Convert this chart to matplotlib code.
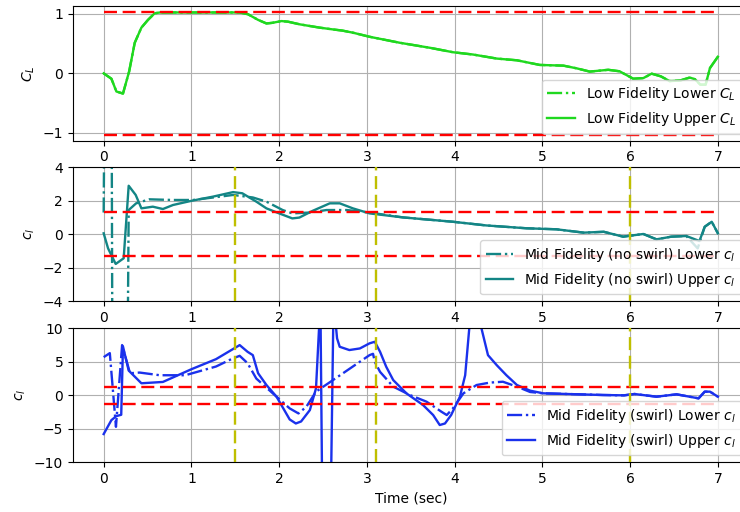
import numpy as np
import matplotlib
matplotlib.use("Agg")
import matplotlib.pyplot as plt

# Low fidelity lift coefficient
t_low = [0, 0.088, 0.145, 0.22, 0.29, 0.354, 0.43, 0.505, 0.58, 0.64,
         1.0, 1.3, 1.55, 1.645, 1.76, 1.855, 1.92, 2.026, 2.10, 2.235,
         2.46, 2.61, 2.72, 2.84, 3.03, 3.375, 3.72, 3.98, 4.21, 4.48,
         4.71, 4.97, 5.24, 5.39, 5.54, 5.75, 5.88, 6.035, 6.15, 6.245,
         6.35, 6.45, 6.57, 6.68, 6.74, 6.80, 6.86, 6.91, 7.0]
cl_low_upper = [0.0, -0.09, -0.305, -0.34, 0.03, 0.515, 0.77, 0.9, 1.01, 1.025,
                1.025, 1.025, 1.025, 0.995, 0.9, 0.84, 0.85, 0.88, 0.87, 0.825,
                0.77, 0.74, 0.72, 0.685, 0.616, 0.515, 0.43, 0.356, 0.317, 0.249,
                0.22, 0.142, 0.13, 0.085, 0.03, 0.06, 0.035, -0.09, -0.08, -0.005,
                -0.05, -0.13, -0.12, -0.07, -0.1, -0.19, -0.19, 0.09, 0.28]
cl_low_lower = list(cl_low_upper)
cl_low_bound = 1.03

# Mid fidelity, no swirl
t_mid = [0, 0.05, 0.137, 0.228, 0.285, 0.365, 0.43, 0.56, 0.675, 0.79,
         1.0, 1.246, 1.475, 1.58, 1.74, 1.855, 2.0, 2.15, 2.23, 2.385,
         2.577, 2.69, 2.84, 3.03, 3.41, 3.98, 4.36, 4.82, 5.16, 5.47,
         5.7, 5.92, 6.15, 6.30, 6.47, 6.64, 6.79, 6.85, 6.93, 7.0]
cl_mid_upper = [0.06, -0.84, -1.77, -1.43, 2.9, 2.35, 1.55, 1.65, 1.51, 1.75,
                2.0, 2.25, 2.52, 2.45, 1.95, 1.55, 1.25, 0.95, 1.0, 1.41,
                1.85, 1.85, 1.55, 1.25, 1.01, 0.75, 0.53, 0.36, 0.3, 0.1,
                0.15, -0.14, 0.02, -0.3, -0.14, -0.1, -0.4, 0.45, 0.75, 0.06]
t_mid_lower = [0, 0.01, 0.09, 0.1, 0.27, 0.285, 0.37, 0.52, 0.79, 1.02,
               1.25, 1.475, 1.55, 1.70, 1.855, 2.04, 2.15, 2.35, 2.54, 2.77,
               3.03, 3.41, 3.98, 4.36, 4.82, 5.16, 5.47, 5.7, 5.92, 6.15,
               6.30, 6.47, 6.64, 6.77, 6.85, 6.93, 7.0]
cl_mid_lower = [1.3, 9, 9, -9, -9, 1.45, 1.85, 2.09, 2.05, 2.05,
                2.2, 2.35, 2.3, 2.2, 1.95, 1.45, 1.25, 1.3, 1.45, 1.45,
                1.3, 1.01, 0.75, 0.53, 0.36, 0.3, 0.1, 0.15, -0.14, 0.02,
                -0.3, -0.14, -0.1, -0.84, 0.45, 0.75, 0.06]

# Mid fidelity, swirl
t_swirl = [0, 0.088, 0.145, 0.2, 0.22, 0.285, 0.43, 0.675, 1.0, 1.28,
           1.55, 1.64, 1.70, 1.76, 1.855, 1.97, 2.12, 2.19, 2.25, 2.35,
           2.42, 2.47, 2.49, 2.59, 2.62, 2.66, 2.69, 2.80, 2.92, 3.03,
           3.09, 3.15, 3.22, 3.30, 3.45, 3.64, 3.755, 3.83, 3.89, 3.96,
           4.06, 4.12, 4.17, 4.24, 4.30, 4.38, 4.48, 4.59, 4.71, 4.86,
           5.01, 5.69, 5.93, 6.05, 6.30, 6.53, 6.78, 6.85, 6.91, 7.0]
cl_swirl_upper = [-5.78, -3.7, -3.1, -2.9, 7.3, 3.7, 1.8, 2.0, 3.9, 5.4,
                  7.5, 6.5, 6.0, 3.3, 1.54, -0.2, -3.6, -4.2, -3.9, -2.2,
                  1.05, 14, -14, -14, 14, 8.5, 7.25, 6.76, 7.0, 7.76,
                  8.0, 6.5, 4.27, 2.28, 0.3, -1.45, -2.94, -4.43, -4.2, -2.94,
                  -0.2, 3.0, 10.5, 14, 10.3, 6.0, 4.5, 3.0, 1.54, 0.7,
                  0.3, 0.05, 0.0, 0.2, -0.2, 0.15, -0.45, 0.55, 0.55, -0.2]
t_swirl_lower = [0, 0.07, 0.14, 0.21, 0.3, 0.41, 0.64, 0.93, 1.28, 1.47,
                 1.55, 1.64, 1.74, 1.97, 2.12, 2.22, 2.31, 2.42, 3.03, 3.07,
                 3.09, 3.15, 3.30, 3.49, 3.68, 3.85, 3.91, 3.98, 4.10, 4.25,
                 4.40, 4.55, 4.71, 4.86, 5.01, 5.69, 5.93, 6.05, 6.30, 6.53,
                 6.78, 6.85, 6.91, 7.0]
cl_swirl_lower = [5.7, 6.3, -4.7, 7.5, 3.3, 3.4, 3.0, 3.0, 4.3, 5.5,
                  5.9, 4.8, 2.5, -0.2, -1.95, -2.7, -1.7, 0.55, 6.0, 6.2,
                  5.0, 3.5, 1.3, 0.05, -0.95, -2.45, -2.94, -1.95, 0.3, 1.54,
                  1.9, 2.03, 1.3, 0.5, 0.3, 0.05, 0.0, 0.2, -0.2, 0.15,
                  -0.45, 0.55, 0.55, -0.2]
cl_mid_bound = 1.31
event_times = [1.5, 3.1, 6.0]

green = "#1fd81f"
teal = "#138585"
blue = "#1a31ec"
lw = 1.7
long_dash = (0, (5.5, 2.4))

fig = plt.figure(figsize=(7.4, 5.12), dpi=100)
left, width = 0.0986, 0.913
ax1 = fig.add_axes([left, 0.7252, width, 0.263])
ax2 = fig.add_axes([left, 0.4115, width, 0.2617])
ax3 = fig.add_axes([left, 0.097, width, 0.2617])

# top: low fidelity
ax1.plot(t_low, cl_low_lower, "-.", color=green, lw=lw, label="Low Fidelity Lower $C_L$")
ax1.plot(t_low, cl_low_upper, "-", color=green, lw=lw, label="Low Fidelity Upper $C_L$")
ax1.hlines([cl_low_bound, -cl_low_bound], t_low[0], t_low[-1], colors="r",
           linestyles=long_dash, lw=lw, zorder=3)
ax1.set_ylabel("$C_L$")

# middle: no swirl
ax2.plot(t_mid_lower, cl_mid_lower, "-.", color=teal, lw=lw,
         label="Mid Fidelity (no swirl) Lower $c_l$")
ax2.plot(t_mid, cl_mid_upper, "-", color=teal, lw=lw,
         label="Mid Fidelity (no swirl) Upper $c_l$")
ax2.hlines([cl_mid_bound, -cl_mid_bound], t_mid[0], t_mid[-1], colors="r",
           linestyles=long_dash, lw=lw, zorder=3)
ax2.set_ylim(-4, 4)
ax2.set_ylabel("$c_l$")

# bottom: swirl
ax3.plot(t_swirl_lower, cl_swirl_lower, "-.", color=blue, lw=lw,
         label="Mid Fidelity (swirl) Lower $c_l$")
ax3.plot(t_swirl, cl_swirl_upper, "-", color=blue, lw=lw,
         label="Mid Fidelity (swirl) Upper $c_l$")
ax3.hlines([cl_mid_bound, -cl_mid_bound], t_swirl[0], t_swirl[-1], colors="r",
           linestyles=long_dash, lw=lw, zorder=3)
ax3.set_ylim(-10, 10)
ax3.set_ylabel("$c_l$")
ax3.set_xlabel("Time (sec)")

for ax in (ax2, ax3):
    for te in event_times:
        ax.axvline(te, color="y", ls=long_dash, lw=lw, zorder=3)

for ax in (ax1, ax2, ax3):
    ax.set_xlim(-0.35, 7.35)
    ax.set_xticks(range(0, 8))
    ax.grid(True)
    ax.legend(loc="lower right")

fig.savefig("out.png", dpi=100)
